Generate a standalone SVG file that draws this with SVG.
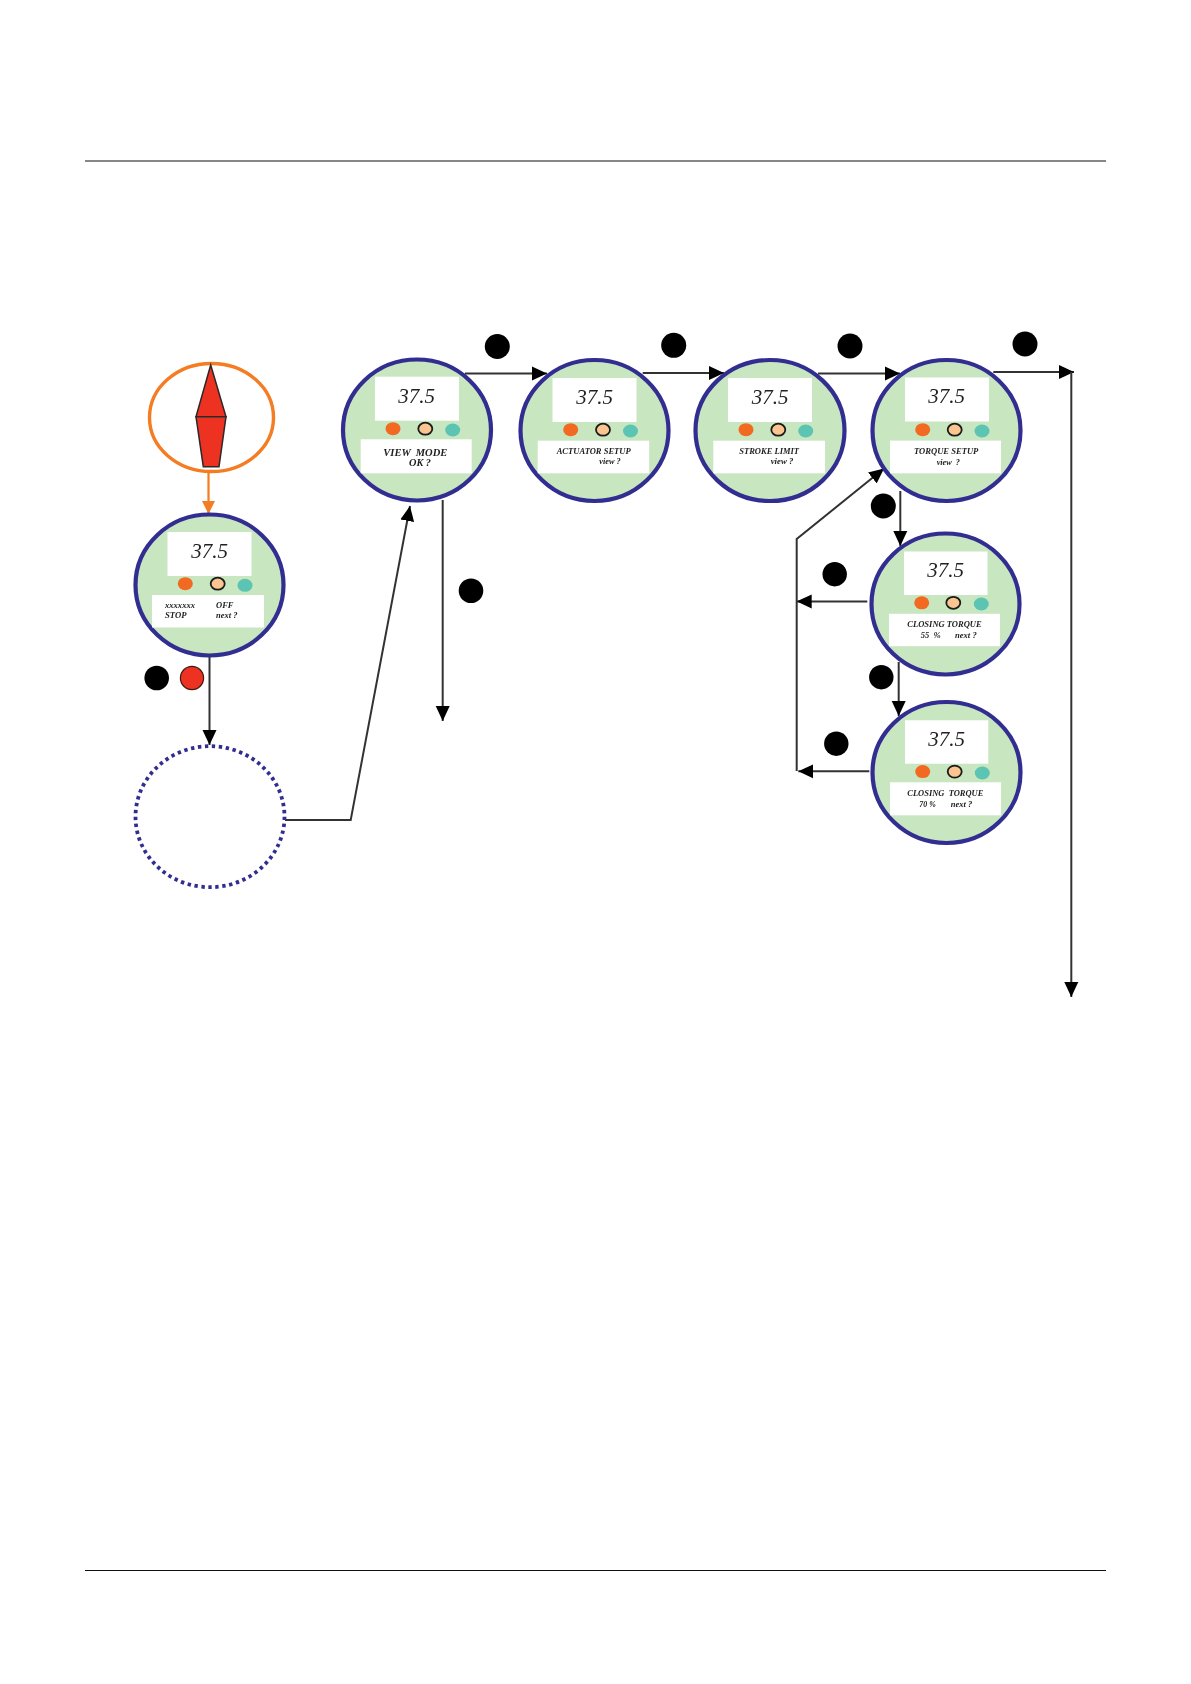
<svg xmlns="http://www.w3.org/2000/svg" width="1191" height="1684" viewBox="0 0 1191 1684">
<style>
.rule{stroke:#111;stroke-width:1;fill:none}
.face{fill:#c8e6bf;stroke:#312e91;stroke-width:4.2}
.box{fill:#fff}
.o{fill:#f26a21}
.p{fill:#fbc591;stroke:#1a1a1a;stroke-width:1.8}
.t{fill:#5cc4b2}
.dot{fill:#000}
.num{font:italic 21px "Liberation Serif",serif;fill:#222;text-anchor:middle}
.lab{font:italic bold 8.5px "Liberation Serif",serif;fill:#222}
.big{font-size:10.5px}
.con{fill:none;stroke:#333;stroke-width:2}
</style>
<defs>
<marker id="ah" markerUnits="userSpaceOnUse" markerWidth="15" markerHeight="15" viewBox="0 0 15 15" refX="15" refY="7.5" orient="auto"><path d="M0 0.5L15 7.5L0 14.5Z" fill="#000"/></marker>
<marker id="ao" markerUnits="userSpaceOnUse" markerWidth="15" markerHeight="15" viewBox="0 0 15 15" refX="13" refY="7.5" orient="auto"><path d="M0 1L13 7.5L0 14Z" fill="#f47b20"/></marker>
<filter id="soft" x="-5%" y="-5%" width="110%" height="110%"><feGaussianBlur stdDeviation="0.45"/></filter>
</defs>
<rect width="1191" height="1684" fill="#fff"/>
<line class="rule" x1="85" y1="161" x2="1106" y2="161"/>
<line class="rule" x1="85" y1="1570.5" x2="1106" y2="1570.5"/>
<g filter="url(#soft)">
<g id="connectors">
<path class="con" style="stroke:#f47b20;stroke-width:2.2" marker-end="url(#ao)" d="M208.5 472V514"/>
<path class="con" marker-end="url(#ah)" d="M209.5 657V745"/>
<path class="con" marker-end="url(#ah)" d="M285 820H350.7L410 506"/>
<path class="con" marker-end="url(#ah)" d="M442.7 500V721"/>
<path class="con" marker-end="url(#ah)" d="M465 373.5H547"/>
<path class="con" marker-end="url(#ah)" d="M642.7 373H724"/>
<path class="con" marker-end="url(#ah)" d="M818 373.5H900"/>
<path class="con" marker-end="url(#ah)" d="M993.3 372H1074"/>
<path class="con" marker-end="url(#ah)" d="M1071.3 372V997"/>
<path class="con" marker-end="url(#ah)" d="M900.3 491V546"/>
<path class="con" marker-end="url(#ah)" d="M867.3 601.4H796.7"/>
<path class="con" marker-end="url(#ah)" d="M898.7 662V716"/>
<path class="con" marker-end="url(#ah)" d="M869.3 771.3H798.3"/>
<path class="con" marker-end="url(#ah)" d="M796.7 771V539L884 468.5"/>
</g>
<g id="compass">
<ellipse cx="211.5" cy="417.5" rx="62" ry="54" fill="#fff" stroke="#f47b20" stroke-width="3.4"/>
<path d="M210.7 365L196 416.7H226Z" fill="#ee3124" stroke="#2a2a2a" stroke-width="1.5"/>
<path d="M196 416.7H226L219 466.7H203.3Z" fill="#ee3124" stroke="#2a2a2a" stroke-width="1.5"/>
</g>
<g id="node-stop">
<ellipse class="face" cx="209.5" cy="585" rx="74" ry="70.5"/>
<rect class="box" x="167.5" y="532" width="84" height="44"/>
<text class="num" x="209.5" y="558">37.5</text>
<ellipse class="o" cx="185.3" cy="583.7" rx="7.5" ry="6.5"/>
<ellipse class="p" cx="217.7" cy="583.7" rx="7" ry="6"/>
<ellipse class="t" cx="245" cy="585.3" rx="7.5" ry="6.5"/>
<rect class="box" x="152" y="595" width="112" height="32.5"/>
<text class="lab" x="165" y="608" textLength="30" lengthAdjust="spacingAndGlyphs">xxxxxxx</text>
<text class="lab" x="216" y="608" textLength="17.5" lengthAdjust="spacingAndGlyphs">OFF</text>
<text class="lab" x="165" y="618.3" textLength="21.5" lengthAdjust="spacingAndGlyphs">STOP</text>
<text class="lab" x="216" y="618.3" textLength="21.5" lengthAdjust="spacingAndGlyphs">next ?</text>
</g>
<g id="node-dotted">
<ellipse cx="210" cy="816.7" rx="74.5" ry="70.5" fill="#fff" stroke="#312e91" stroke-width="3.8" stroke-dasharray="3.4 3.6"/>
</g>
<g id="node-view">
<ellipse class="face" cx="417" cy="430" rx="74" ry="70.5"/>
<rect class="box" x="375" y="376.7" width="84" height="44"/>
<text class="num" x="416.7" y="403">37.5</text>
<ellipse class="o" cx="393" cy="428.7" rx="7.5" ry="6.5"/>
<ellipse class="p" cx="425.3" cy="428.7" rx="7" ry="6"/>
<ellipse class="t" cx="452.7" cy="430" rx="7.5" ry="6.5"/>
<rect class="box" x="360.7" y="439.3" width="111" height="34"/>
<text class="lab big" x="383.3" y="455.7" xml:space="preserve" textLength="64" lengthAdjust="spacingAndGlyphs">VIEW  MODE</text>
<text class="lab big" x="409" y="466" textLength="22" lengthAdjust="spacingAndGlyphs">OK ?</text>
</g>
<g id="node-actuator">
<ellipse class="face" cx="594.5" cy="430.5" rx="74" ry="70.5"/>
<rect class="box" x="552.5" y="378" width="84" height="44"/>
<text class="num" x="594.5" y="403.5">37.5</text>
<ellipse class="o" cx="570.7" cy="429.7" rx="7.5" ry="6.5"/>
<ellipse class="p" cx="603" cy="429.7" rx="7" ry="6"/>
<ellipse class="t" cx="630.5" cy="431" rx="7.5" ry="6.5"/>
<rect class="box" x="537.7" y="440.7" width="111.5" height="32.6"/>
<text class="lab" x="556.7" y="454.3" textLength="74" lengthAdjust="spacingAndGlyphs">ACTUATOR SETUP</text>
<text class="lab" x="599.3" y="464.3" textLength="21.4" lengthAdjust="spacingAndGlyphs">view ?</text>
</g>
<g id="node-stroke">
<ellipse class="face" cx="770" cy="430.5" rx="74.5" ry="70.5"/>
<rect class="box" x="728" y="378" width="84" height="44"/>
<text class="num" x="770" y="403.5">37.5</text>
<ellipse class="o" cx="746" cy="429.7" rx="7.5" ry="6.5"/>
<ellipse class="p" cx="778.3" cy="429.7" rx="7" ry="6"/>
<ellipse class="t" cx="805.7" cy="431" rx="7.5" ry="6.5"/>
<rect class="box" x="713.3" y="440.7" width="111.7" height="32.6"/>
<text class="lab" x="739.3" y="454.3" textLength="59.7" lengthAdjust="spacingAndGlyphs">STROKE LIMIT</text>
<text class="lab" x="770.7" y="464.3" textLength="22.6" lengthAdjust="spacingAndGlyphs">view ?</text>
</g>
<g id="node-torque">
<ellipse class="face" cx="946.5" cy="430.5" rx="74" ry="70.5"/>
<rect class="box" x="905" y="377.5" width="84" height="44"/>
<text class="num" x="946.5" y="403">37.5</text>
<ellipse class="o" cx="922.7" cy="429.7" rx="7.5" ry="6.5"/>
<ellipse class="p" cx="954.7" cy="429.7" rx="7" ry="6"/>
<ellipse class="t" cx="982" cy="431" rx="7.5" ry="6.5"/>
<rect class="box" x="890" y="440.6" width="111" height="32.7"/>
<text class="lab" x="914" y="454.3" textLength="64.3" lengthAdjust="spacingAndGlyphs">TORQUE SETUP</text>
<text class="lab" x="936.7" y="464.7" xml:space="preserve" textLength="23.3" lengthAdjust="spacingAndGlyphs">view  ?</text>
</g>
<g id="node-closing55">
<ellipse class="face" cx="945.5" cy="604" rx="74" ry="70.5"/>
<rect class="box" x="904" y="551.5" width="83.5" height="43.5"/>
<text class="num" x="945.5" y="576.5">37.5</text>
<ellipse class="o" cx="921.7" cy="602.8" rx="7.5" ry="6.5"/>
<ellipse class="p" cx="953.3" cy="602.8" rx="7" ry="6"/>
<ellipse class="t" cx="981.3" cy="604" rx="7.5" ry="6.5"/>
<rect class="box" x="889" y="613.8" width="111" height="32.4"/>
<text class="lab" x="907.3" y="627.3" textLength="74.4" lengthAdjust="spacingAndGlyphs">CLOSING TORQUE</text>
<text class="lab" x="920.7" y="637.6" xml:space="preserve" textLength="20" lengthAdjust="spacingAndGlyphs">55  %</text>
<text class="lab" x="955" y="637.6" textLength="21.7" lengthAdjust="spacingAndGlyphs">next ?</text>
</g>
<g id="node-closing70">
<ellipse class="face" cx="946.5" cy="772.5" rx="74" ry="70.5"/>
<rect class="box" x="905" y="720.3" width="83.3" height="43.4"/>
<text class="num" x="946.5" y="746">37.5</text>
<ellipse class="o" cx="922.7" cy="771.6" rx="7.5" ry="6.5"/>
<ellipse class="p" cx="954.7" cy="771.6" rx="7" ry="6"/>
<ellipse class="t" cx="982.3" cy="773" rx="7.5" ry="6.5"/>
<rect class="box" x="890" y="782.3" width="111" height="33"/>
<text class="lab" x="907.3" y="796.4" xml:space="preserve" textLength="76" lengthAdjust="spacingAndGlyphs">CLOSING  TORQUE</text>
<text class="lab" x="919.3" y="806.7" textLength="16.4" lengthAdjust="spacingAndGlyphs">70 %</text>
<text class="lab" x="950.7" y="806.7" textLength="21.6" lengthAdjust="spacingAndGlyphs">next ?</text>
</g>
<g id="keys">
<circle class="dot" cx="156.7" cy="678" r="12.3"/>
<circle cx="192" cy="678" r="11.6" fill="#ee3124" stroke="#3a1a10" stroke-width="1.2"/>
<circle class="dot" cx="497.3" cy="346.5" r="12.5"/>
<circle class="dot" cx="471" cy="590.7" r="12.3"/>
<circle class="dot" cx="673.7" cy="345.3" r="12.5"/>
<circle class="dot" cx="850" cy="346" r="12.5"/>
<circle class="dot" cx="1025" cy="344" r="12.5"/>
<circle class="dot" cx="883.3" cy="506" r="12.5"/>
<circle class="dot" cx="834.7" cy="574.2" r="12.2"/>
<circle class="dot" cx="881.3" cy="677.2" r="12.2"/>
<circle class="dot" cx="836.3" cy="743.7" r="12.2"/>
</g>
</g>
</svg>
